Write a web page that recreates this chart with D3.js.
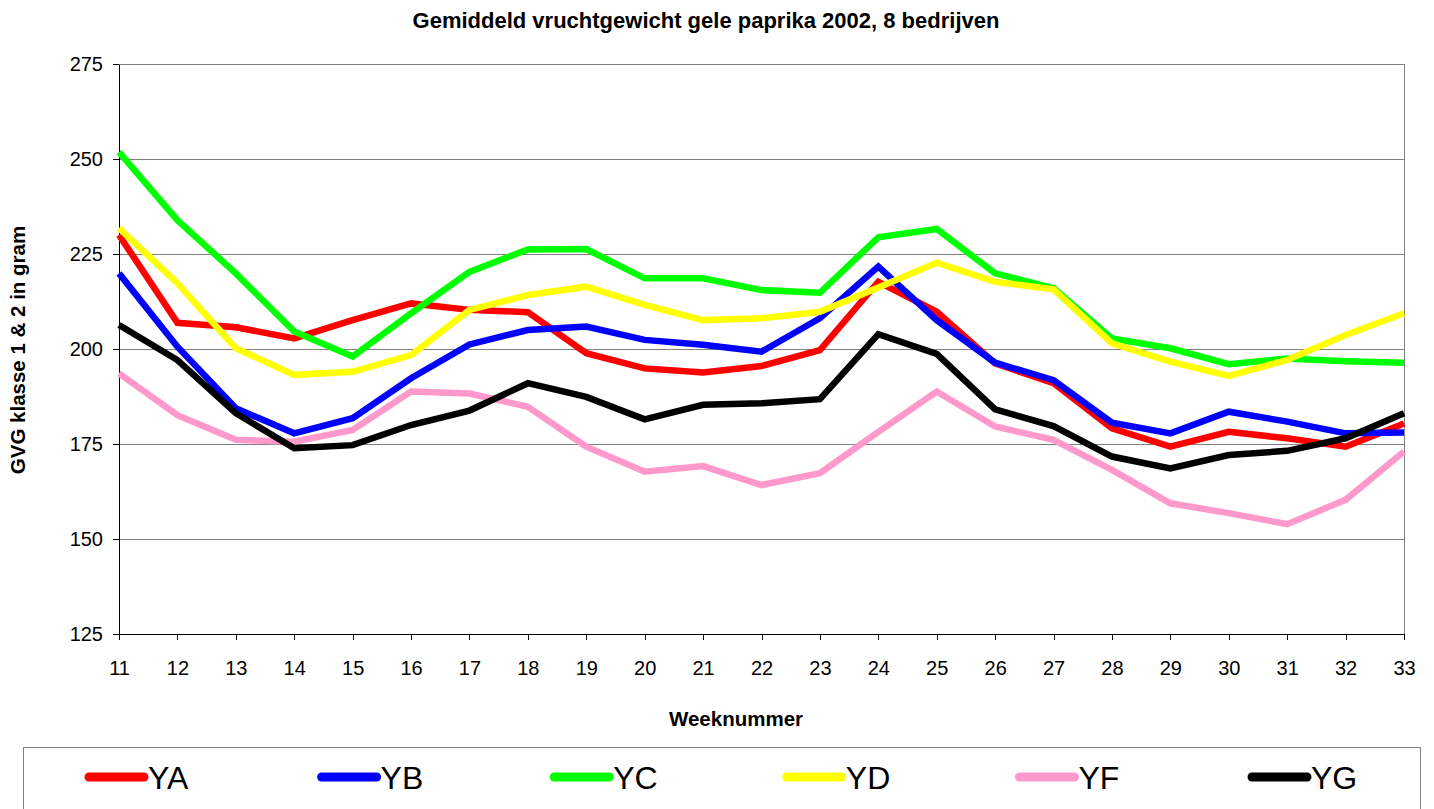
<!DOCTYPE html>
<head>
<meta charset="utf-8">
<title>Gemiddeld vruchtgewicht gele paprika 2002</title>
<style>
    body { margin: 0; background: white; }
    svg { font-family: "Liberation Sans", Arial, sans-serif; }
    .axis text { font-size: 20px; fill: black; }
    .axis path, .axis line { stroke: black; shape-rendering: crispEdges; }
    .grid line { stroke: #808080; shape-rendering: crispEdges; }
    .line { fill: none; stroke-width: 6.5px; stroke-linejoin: miter; }
    .title { font-size: 22px; font-weight: bold; }
    .label { font-size: 20.5px; font-weight: bold; }
    .legend text { font-size: 32px; }
</style>
</head>
<body>
<svg></svg>
<script src="https://cdn.jsdelivr.net/npm/d3@7"></script>
<script>

    var weeks = [11, 12, 13, 14, 15, 16, 17, 18, 19, 20, 21, 22, 23, 24, 25, 26, 27, 28, 29, 30, 31, 32, 33];
    var yTicks = [125, 150, 175, 200, 225, 250, 275];

    var YA = [230.0, 206.9, 205.7, 202.8, 207.6, 212.0, 210.3, 209.7, 198.9, 194.9, 193.8, 195.5, 199.7, 217.7, 209.8, 196.2, 191.0, 179.1, 174.3, 178.2, 176.5, 174.3, 180.4];
    var YB = [219.9, 200.6, 184.4, 177.8, 181.8, 192.3, 201.2, 205.0, 205.9, 202.4, 201.1, 199.3, 208.1, 221.7, 207.6, 196.4, 191.8, 180.6, 177.8, 183.5, 180.9, 177.8, 178.0];
    var YC = [251.8, 233.9, 219.9, 204.6, 198.0, 209.4, 220.3, 226.2, 226.3, 218.6, 218.6, 215.5, 214.8, 229.4, 231.6, 219.9, 216.0, 202.8, 200.2, 196.0, 197.5, 196.8, 196.4];
    var YD = [231.8, 217.3, 200.2, 193.2, 194.0, 198.4, 210.3, 214.2, 216.4, 211.6, 207.6, 208.1, 209.8, 216.2, 222.7, 217.7, 215.7, 201.5, 196.7, 192.9, 197.1, 203.7, 209.4];
    var YF = [193.6, 182.6, 176.1, 175.6, 178.7, 188.8, 188.3, 184.8, 174.3, 167.7, 169.2, 164.2, 167.3, 178.2, 188.8, 179.6, 176.1, 168.2, 159.4, 156.8, 153.9, 160.3, 173.0];
    var YG = [206.3, 197.1, 183.1, 173.9, 174.7, 180.0, 183.8, 191.0, 187.4, 181.5, 185.3, 185.7, 186.8, 203.9, 198.7, 184.1, 179.7, 171.7, 168.6, 172.1, 173.2, 176.5, 183.1];

    var seriesNames = ["YA", "YB", "YC", "YD", "YF", "YG"];
    var seriesValues = [YA, YB, YC, YD, YF, YG];
    var colors = ["#ff0000", "#0000ff", "#00ff00", "#ffff00", "#ff99cc", "#000000"];

    var svg = d3.select("svg")
        .attr("width", 1434)
        .attr("height", 809);

    var margin = {top: 64, left: 119},
        width = 1404 - 119,
        height = 634 - 64;

    var g = svg.append("g")
        .attr("transform", "translate(" + margin.left + "," + margin.top + ")");

    var x = d3.scaleLinear()
        .domain([d3.min(weeks), d3.max(weeks)])
        .range([0, width]);

    var y = d3.scaleLinear()
        .domain([125, 275])
        .range([height, 0]);

    // gridlines
    g.append("g")
        .attr("class", "grid")
        .selectAll("line")
        .data(yTicks.slice(1))
        .enter().append("line")
        .attr("x1", 0)
        .attr("x2", width)
        .attr("y1", function (d) { return y(d); })
        .attr("y2", function (d) { return y(d); });

    // right border
    g.append("line")
        .attr("x1", width).attr("x2", width)
        .attr("y1", 0).attr("y2", height)
        .attr("stroke", "#808080")
        .attr("shape-rendering", "crispEdges");

    g.append("g")
        .attr("class", "axis axis--x")
        .attr("transform", "translate(0," + height + ")")
        .call(d3.axisBottom(x).tickValues(weeks).tickFormat(d3.format("d")).tickSize(6).tickSizeOuter(0).tickPadding(21));

    g.append("g")
        .attr("class", "axis axis--y")
        .call(d3.axisLeft(y).tickValues(yTicks).tickSize(6).tickSizeOuter(0).tickPadding(10));

    g.select(".axis--x path").attr("stroke", "#808080");

    var line = d3.line()
        .x(function (d, i) { return x(weeks[i]); })
        .y(function (d) { return y(d); });

    g.selectAll(".serie")
        .data(seriesValues)
        .enter().append("path")
        .attr("class", "line")
        .attr("stroke", function (d, i) { return colors[i]; })
        .attr("d", line);

    // title and axis labels
    svg.append("text")
        .attr("class", "title")
        .attr("x", 706)
        .attr("y", 28)
        .attr("text-anchor", "middle")
        .text("Gemiddeld vruchtgewicht gele paprika 2002, 8 bedrijven");

    svg.append("text")
        .attr("class", "label")
        .attr("x", 736)
        .attr("y", 726)
        .attr("text-anchor", "middle")
        .text("Weeknummer");

    svg.append("text")
        .attr("class", "label")
        .attr("transform", "translate(25,350) rotate(-90)")
        .attr("text-anchor", "middle")
        .text("GVG klasse 1 & 2 in gram");

    // legend
    var legend = svg.append("g").attr("class", "legend");

    legend.append("rect")
        .attr("x", 23.5)
        .attr("y", 747.5)
        .attr("width", 1397)
        .attr("height", 70)
        .attr("fill", "white")
        .attr("stroke", "#808080");

    var item = legend.selectAll(".item")
        .data(seriesNames)
        .enter().append("g")
        .attr("class", "item")
        .attr("transform", function (d, i) { return "translate(" + (89 + i * 232.6) + ",777)"; });

    item.append("line")
        .attr("x1", 0).attr("x2", 55)
        .attr("y1", 0).attr("y2", 0)
        .attr("stroke-width", 9)
        .attr("stroke-linecap", "round")
        .attr("stroke", function (d, i) { return colors[i]; });

    item.append("text")
        .attr("x", 59)
        .attr("y", 12)
        .text(function (d) { return d; });

</script>
</body>
